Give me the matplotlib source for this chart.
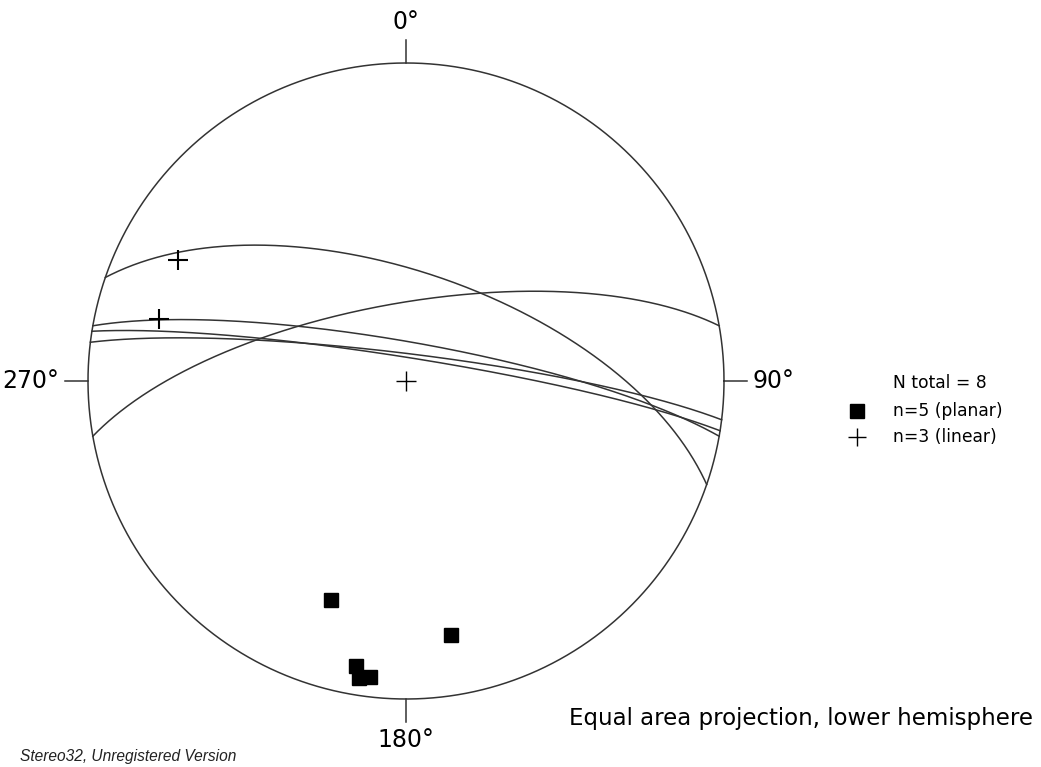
import numpy as np
import matplotlib
matplotlib.use("Agg")
import matplotlib.pyplot as plt

# Planes (dip direction / dip, degrees) -> plotted as great circles + poles
plane_dipdir = [19, 350, 10, 9, 7]
plane_dip = [62, 70, 80, 84, 83]

# Lineations (trend / plunge, degrees)
lin_trend = [298, 284, 0]
lin_plunge = [20, 21, 90]

compass_labels = ["0°", "90°", "180°", "270°"]
compass_az = [0, 90, 180, 270]


def project(e, n, u):
    """Equal area, lower hemisphere; primitive radius = 1."""
    k = np.sqrt(1.0 / (1.0 - u))
    return e * k, n * k


def line_vec(trend, plunge):
    t, p = np.radians(trend), np.radians(plunge)
    return np.cos(p) * np.sin(t), np.cos(p) * np.cos(t), -np.sin(p)


def great_circle(dipdir, dip, n=400):
    dd, d = np.radians(dipdir), np.radians(dip)
    s = dd - np.pi / 2
    vs = np.array([np.sin(s), np.cos(s), 0.0])
    vd = np.array([np.sin(dd) * np.cos(d), np.cos(dd) * np.cos(d), -np.sin(d)])
    t = np.linspace(0, np.pi, n)
    v = np.outer(np.cos(t), vs) + np.outer(np.sin(t), vd)
    return project(v[:, 0], v[:, 1], v[:, 2])


W, H = 1041, 767
cx, cy, R = 406, 381, 318

fig = plt.figure(figsize=(W / 100, H / 100), dpi=100)
ax = fig.add_axes([(cx - R) / W, (H - cy - R) / H, 2 * R / W, 2 * R / H])
ax.set_xlim(-1, 1)
ax.set_ylim(-1, 1)
ax.set_aspect("equal")
ax.axis("off")

lc = "#333333"
# primitive circle
th = np.linspace(0, 2 * np.pi, 720)
ax.plot(np.cos(th), np.sin(th), color=lc, lw=1.1, clip_on=False)

# compass ticks and labels
tick_len = 23 / R
for az, lab in zip(compass_az, compass_labels):
    a = np.radians(az)
    ax.plot([np.sin(a), np.sin(a) * (1 + tick_len)],
            [np.cos(a), np.cos(a) * (1 + tick_len)],
            color=lc, lw=1.1, clip_on=False)
    off = 1 + tick_len + 6 / R
    if az == 0:
        ax.text(0, off, lab, ha="center", va="bottom", fontsize=17)
    elif az == 180:
        ax.text(0, -off, lab, ha="center", va="top", fontsize=17)
    elif az == 90:
        ax.text(off, 0, lab, ha="left", va="center", fontsize=17)
    else:
        ax.text(-off, 0, lab, ha="right", va="center", fontsize=17)

# great circles and poles
for dd, d in zip(plane_dipdir, plane_dip):
    x, y = great_circle(dd, d)
    ax.plot(x, y, color=lc, lw=1.1)
    px, py = project(*line_vec(dd + 180, 90 - d))
    ax.plot(px, py, marker="s", color="black", markersize=9.5,
            linestyle="none")

# lineations (vertical one sits on the net centre, drawn thinner)
for tr, pl in zip(lin_trend, lin_plunge):
    lx, ly = project(*line_vec(tr, pl))
    mew = 1.0 if pl == 90 else 1.5
    ax.plot(lx, ly, marker="+", color="black", markersize=14,
            markeredgewidth=mew, linestyle="none")

# legend
fig.text(893 / W, 1 - 383 / H, "N total = 8", fontsize=12.3, va="center")
fig.text(893 / W, 1 - 411 / H, "n=5 (planar)", fontsize=12.3, va="center")
fig.text(893 / W, 1 - 437 / H, "n=3 (linear)", fontsize=12.3, va="center")
fig.lines.append(plt.Line2D([857 / W], [1 - 411 / H], marker="s",
                            color="black", markersize=10.5,
                            transform=fig.transFigure))
fig.lines.append(plt.Line2D([857 / W], [1 - 437 / H], marker="+",
                            color="black", markersize=13,
                            markeredgewidth=1.0,
                            transform=fig.transFigure))

fig.text(1033 / W, 1 - 718 / H, "Equal area projection, lower hemisphere",
         fontsize=16.5, ha="right", va="center")
fig.text(20 / W, 1 - 756 / H, "Stereo32, Unregistered Version",
         fontsize=11.2, style="italic", family="Liberation Sans",
         va="center", color="#222222")

fig.savefig("out.png", dpi=100)
